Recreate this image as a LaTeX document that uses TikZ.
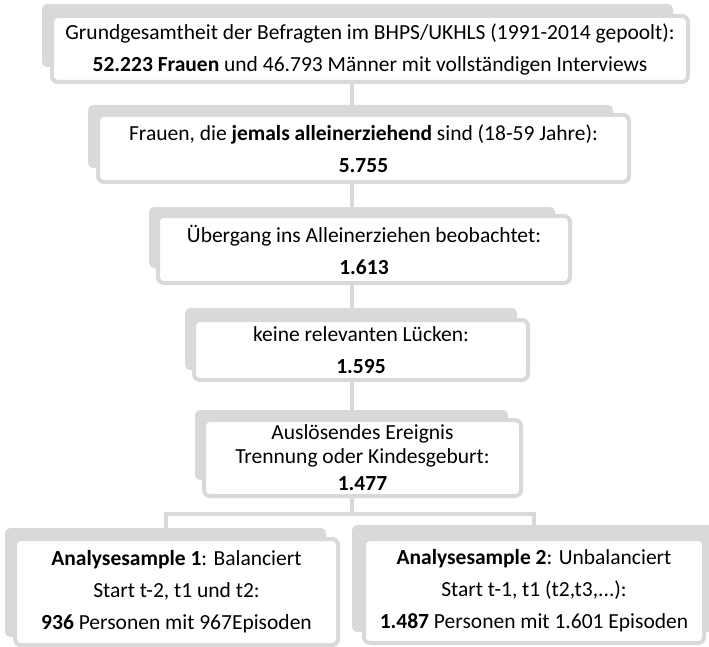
\documentclass[tikz,border=0pt]{standalone}
\usepackage{fontspec}
\setmainfont{Carlito}
\definecolor{boxgray}{RGB}{217,217,217}

\begin{document}
\begin{tikzpicture}[x=1pt,y=-1pt]

\tikzset{backbox/.style={fill=boxgray,rounded corners=5pt,inner sep=0pt},}
\tikzset{frontbox/.style={draw=boxgray,line width=4pt,fill=white,rounded corners=6pt,inner sep=0pt,align=center,text=black,font=\fontsize{21.5}{32}\selectfont},}
\tikzset{tightbox/.style={frontbox,font=\fontsize{21.5}{24}\selectfont},}
\tikzset{conn/.style={draw=boxgray,line width=4pt},}

\useasboundingbox (0,0) rectangle (709,647);
\coordinate (axis) at (352,0);
\coordinate (split) at (352,514);

%GRUNDGESAMTHEIT
\draw (357.5,35.5) node [backbox,minimum width=631,minimum height=63] (grundbg) {};
\draw (370,49) node [frontbox,minimum width=636,minimum height=66] (grund) {Grundgesamtheit der Befragten im BHPS/UKHLS (1991-2014 gepoolt):\\\textbf{52.223 Frauen} und 46.793 Männer mit vollständigen Interviews};

%ALLEINERZIEHEND
\draw (350.5,136.5) node [backbox,minimum width=525,minimum height=63] (frauenbg) {};
\draw (363.5,148.5) node [frontbox,minimum width=531,minimum height=67] (frauen) {Frauen, die \textbf{jemals alleinerziehend} sind (18-59 Jahre):\\\textbf{5.755}};

%UEBERGANG
\draw (352,237.5) node [backbox,minimum width=406,minimum height=61] (uebergangbg) {};
\draw (364,249.5) node [frontbox,minimum width=412,minimum height=67] (uebergang) {Übergang ins Alleinerziehen beobachtet:\\\textbf{1.613}};

%LUECKEN
\draw (351,339) node [backbox,minimum width=332,minimum height=62] (lueckenbg) {};
\draw (361,350) node [frontbox,minimum width=334,minimum height=60] (luecken) {keine relevanten Lücken:\\\textbf{1.595}};

%EREIGNIS
\draw (351.5,445) node [backbox,minimum width=313,minimum height=70] (ereignisbg) {};
\draw (362.5,458) node [tightbox,minimum width=317,minimum height=76] (ereignis) {Auslösendes Ereignis\\Trennung oder Kindesgeburt:\\[3pt]\textbf{1.477}};

%SAMPLES
\draw (165.5,582.5) node [backbox,minimum width=321,minimum height=109] (sample1bg) {};
\draw (176.5,592) node [frontbox,minimum width=323,minimum height=106] (sample1) {\textbf{Analysesample 1}: Balanciert\\Start t-2, t1 und t2:\\\textbf{936} Personen mit 967Episoden};
\draw (533.5,578.5) node [backbox,minimum width=363,minimum height=107] (sample2bg) {};
\draw (534,591) node [frontbox,minimum width=340,minimum height=104] (sample2) {\textbf{Analysesample 2}: Unbalanciert\\Start t-1, t1 (t2,t3,...):\\\textbf{1.487} Personen mit 1.601 Episoden};

%CONNECTORS
\draw[conn] (grund.south -| axis) -- (frauenbg.north -| axis);
\draw[conn] (frauen.south -| axis) -- (uebergangbg.north -| axis);
\draw[conn] (uebergang.south -| axis) -- (lueckenbg.north -| axis);
\draw[conn] (luecken.south -| axis) -- (ereignisbg.north -| axis);
\draw[conn] (ereignis.south -| axis) -- (split);
\draw[conn] (sample1bg.north) |- (split) -| (sample2bg.north);

\end{tikzpicture}
\end{document}
